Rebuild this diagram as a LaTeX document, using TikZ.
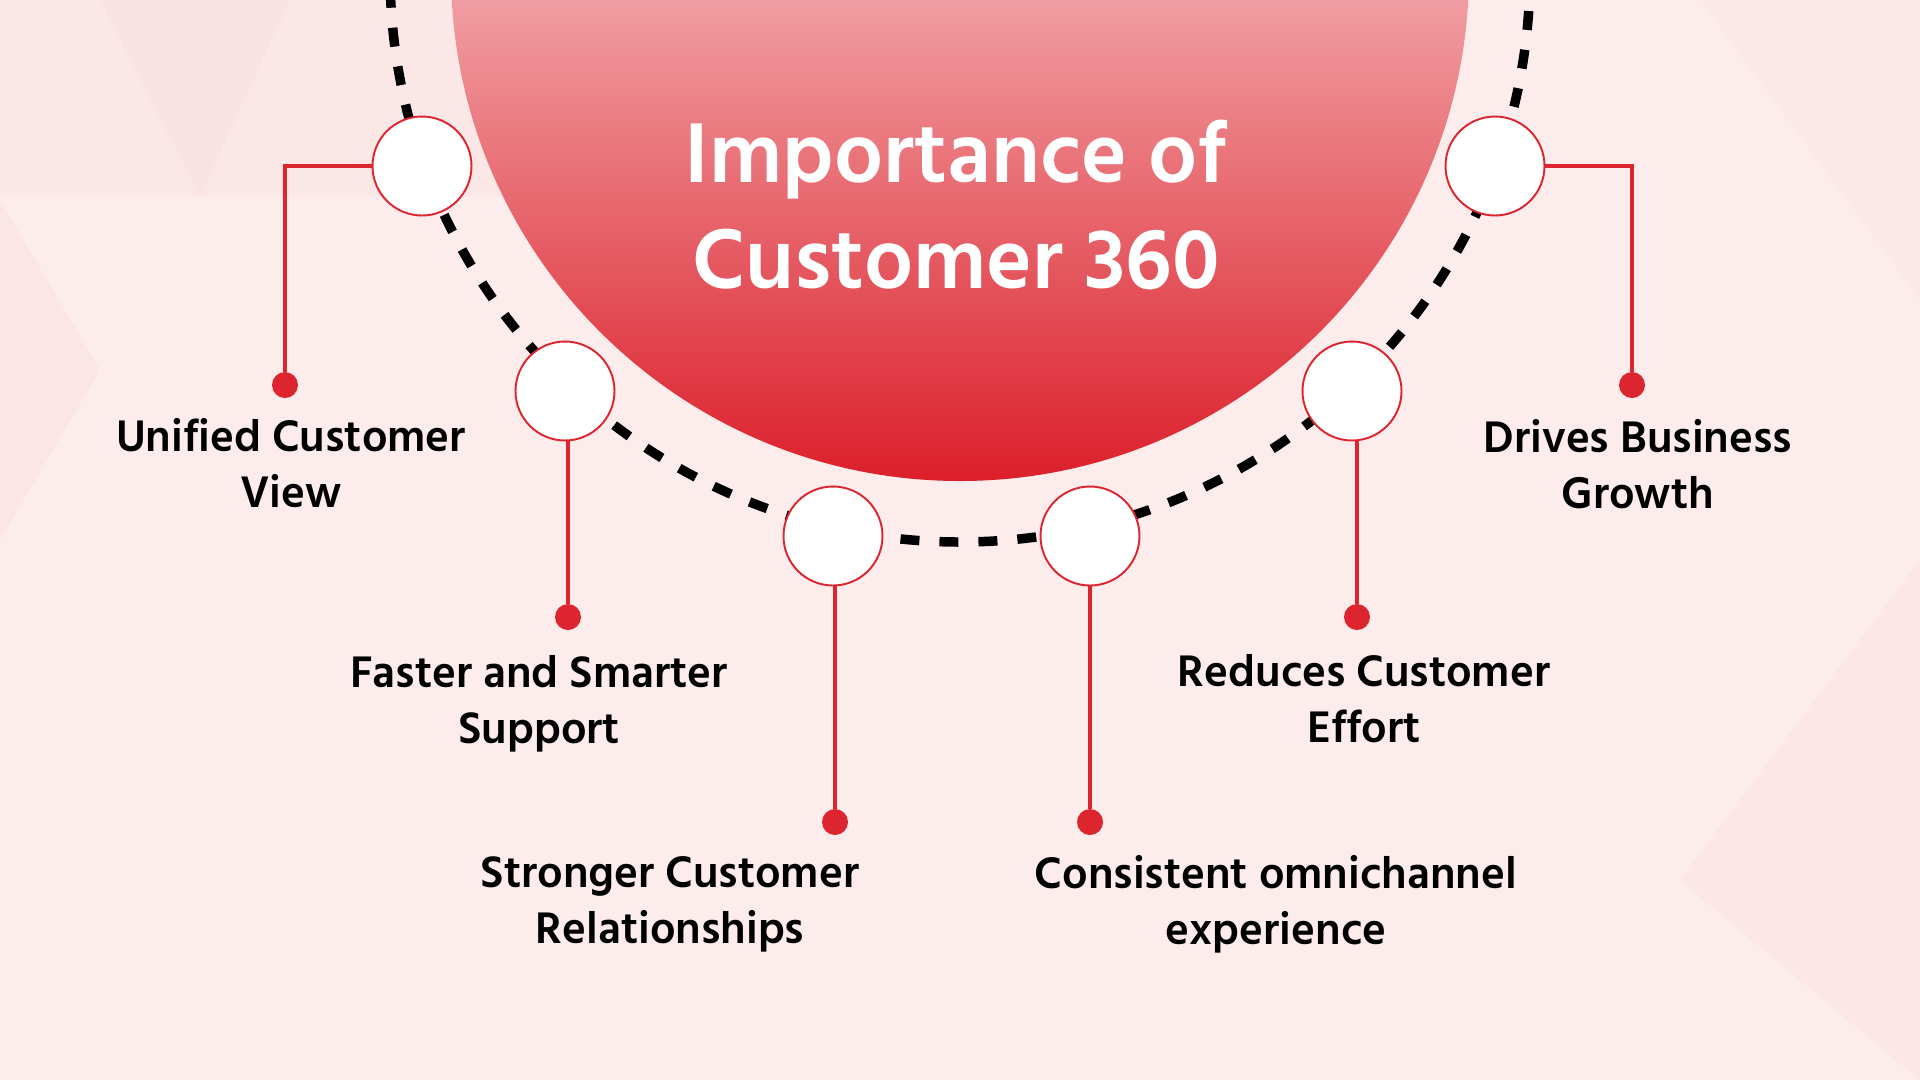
\documentclass[tikz,border=0pt]{standalone}
\usepackage{fontspec}
\setmainfont{Hind Siliguri}
\usepackage{tikz}
\usetikzlibrary{positioning,calc}
\definecolor{cxred}{HTML}{DD2530}
\definecolor{cxpink}{HTML}{FDECEC}
\definecolor{cxtop}{HTML}{F09DA1}
\definecolor{cxbottom}{HTML}{DC1F2A}
\definecolor{cxfacet}{HTML}{F8B8BB}

\begin{document}
\begin{tikzpicture}[
  x=0.02cm, y=-0.02cm,
  spot/.style={circle, draw=cxred, line width=1.1pt, fill=white, minimum size=1.98cm, inner sep=0pt},
  dotmark/.style={circle, fill=cxred, minimum size=0.52cm, inner sep=0pt},
  link/.style={cxred, line width=2.4pt},
  ring/.style={black, line width=5.4pt, dash pattern=on 10.8pt off 11.4pt},
  blurb/.style={font=\bfseries\fontsize{25.8}{31.9}\selectfont, align=center, text=black},
  headline/.style={font=\bfseries\fontsize{49.5}{60}\selectfont, align=center, text=white}
]
\useasboundingbox (0,0) rectangle (1920,1080);
\clip (0,0) rectangle (1920,1080);
\fill[cxpink] (0,0) rectangle (1920,1080);
% faint facets in the backdrop
\fill[cxfacet, opacity=0.09] (0,0) rectangle (560,196);
\fill[cxfacet, opacity=0.10] (100,0) -- (290,0) -- (200,196) -- cycle;
\fill[cxfacet, opacity=0.12] (0,200) -- (100,370) -- (0,540) -- cycle;
\fill[cxfacet, opacity=0.10] (1920,560) -- (1680,880) -- (1920,1080) -- cycle;
\fill[cxfacet, opacity=0.06] (1700,0) -- (1920,0) -- (1920,300) -- cycle;

% big half disc
\begin{scope}
\clip (960,-28) circle[radius=509];
\shade[top color=cxtop, bottom color=cxbottom] (440,0) rectangle (1480,482);
\end{scope}
\node[headline] (title) at (956,205) {Importance of\\Customer 360};

% dashed ring
\draw[ring] (960,-28) circle[radius=570];

\node[spot] (s1) at (422,166) {};
\node[spot] (s2) at (565,391) {};
\node[spot] (s3) at (833,536) {};
\node[spot] (s4) at (1090,536) {};
\node[spot] (s5) at (1352,391) {};
\node[spot] (s6) at (1495,166) {};

\node[dotmark] (d1) at (285,385) {};
\node[dotmark] (d2) at (568,617) {};
\node[dotmark] (d3) at (835,822) {};
\node[dotmark] (d4) at (1090,822) {};
\node[dotmark] (d5) at (1357,617) {};
\node[dotmark] (d6) at (1632,385) {};

\draw[link] (s1.west) -| (d1);
\draw[link] (d2 |- s2.south) -- (d2);
\draw[link] (d3 |- s3.south) -- (d3);
\draw[link] (d4 |- s4.south) -- (d4);
\draw[link] (d5 |- s5.south) -- (d5);
\draw[link] (s6.east) -| (d6);

\node[blurb] (t1) at (291,463) {Unified Customer\\View};
\node[blurb] (t2) at (539,704) {Faster and Smarter\\Support};
\node[blurb] (t3) at (670,904) {Stronger Customer\\Relationships};
\node[blurb] (t4) at (1276,904) {Consistent omnichannel\\experience};
\node[blurb] (t5) at (1364,699) {Reduces Customer\\Effort};
\node[blurb] (t6) at (1638,464) {Drives Business\\Growth};
\end{tikzpicture}
\end{document}
